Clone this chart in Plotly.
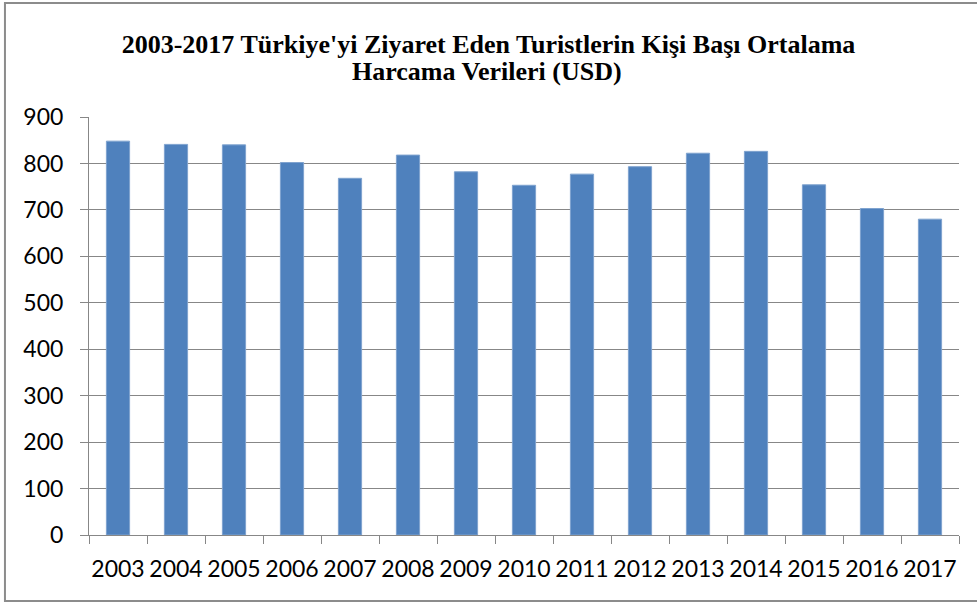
import plotly.graph_objects as go

# yillar ve kisi basi ortalama harcama (USD)
years = ["2003", "2004", "2005", "2006", "2007", "2008", "2009", "2010",
         "2011", "2012", "2013", "2014", "2015", "2016", "2017"]
spending = [848, 841, 840, 802, 768, 818, 782, 753,
            777, 793, 822, 826, 754, 703, 680]
y_ticks = [0, 100, 200, 300, 400, 500, 600, 700, 800, 900]

title_line1 = "<b>2003-2017 Türkiye'yi Ziyaret Eden Turistlerin Kişi Başı Ortalama</b>"
title_line2 = "<b>Harcama Verileri (USD)</b>"

grey = "#878787"
title_font = dict(family="Liberation Serif", size=26, color="black")

fig = go.Figure()
fig.add_trace(go.Bar(
    x=years,
    y=spending,
    marker=dict(color="#4F81BD", line=dict(color="#7FA3CF", width=1)),
))

fig.update_layout(
    width=977,
    height=603,
    margin=dict(l=89, r=18, t=117, b=68, autoexpand=False),
    paper_bgcolor="white",
    plot_bgcolor="white",
    bargap=0.6,
    showlegend=False,
    title=dict(
        text=title_line1,
        font=title_font,
        x=0.5, xref="container", xanchor="center",
        y=0.928, yref="container", yanchor="middle",
    ),
    font=dict(family="Lato", size=23, color="black"),
)

fig.add_annotation(text=title_line2, font=title_font, showarrow=False,
                   xref="paper", yref="paper", x=0.457, y=1.108,
                   xanchor="center", yanchor="middle")

fig.update_xaxes(
    type="category",
    automargin=False,
    tickangle=0,
    showline=True, linecolor=grey, linewidth=1,
    ticks="outside", tickson="boundaries", ticklen=8, tickcolor=grey,
    ticklabelstandoff=13,
    showgrid=False,
    tickfont=dict(family="Lato", size=23, color="black"),
)
fig.update_yaxes(
    automargin=False,
    range=[0, 900],
    tickvals=y_ticks,
    showline=True, linecolor=grey, linewidth=1,
    ticks="outside", ticklen=8, tickcolor=grey,
    ticklabelstandoff=12,
    showgrid=True, gridcolor=grey, gridwidth=1,
    zeroline=False,
    tickfont=dict(family="Lato", size=23, color="black"),
)

# outer chart frame: left, top and bottom only, the right side is cut off
fig.add_shape(type="path", xref="paper", yref="paper",
              path="M 1.2,1.273 L -0.0966,1.273 L -0.0966,-0.158 L 1.2,-0.158",
              line=dict(color="#8c8c8c", width=2), layer="below")

fig.write_html("out.html", config={"displayModeBar": False},
               post_script="document.body.style.margin='0px';"
                           "document.body.style.overflow='hidden';")
